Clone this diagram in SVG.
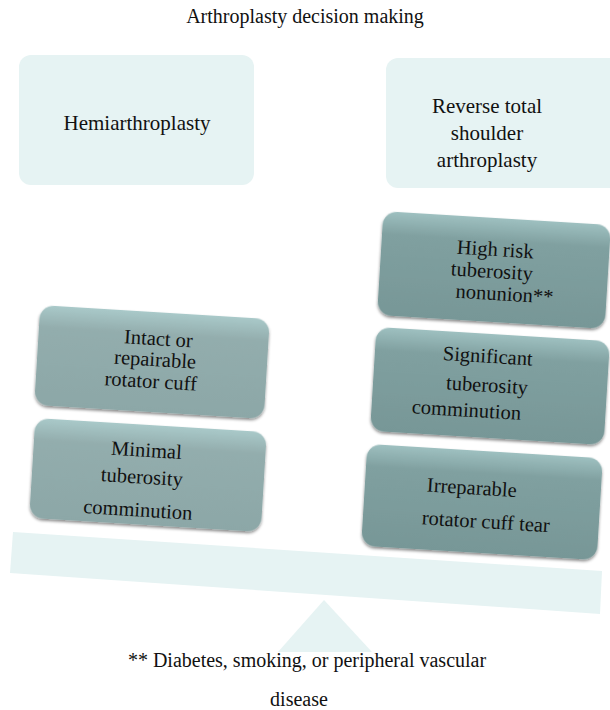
<svg xmlns="http://www.w3.org/2000/svg" width="610" height="710" viewBox="0 0 610 710">
  <defs>
    <linearGradient id="gLeft" x1="0" y1="0" x2="0" y2="1">
      <stop offset="0" stop-color="#a9c9c9"/>
      <stop offset="0.22" stop-color="#93adad"/>
      <stop offset="1" stop-color="#8ca7a7"/>
    </linearGradient>
    <linearGradient id="gRight" x1="0" y1="0" x2="0" y2="1">
      <stop offset="0" stop-color="#9ec0c0"/>
      <stop offset="0.22" stop-color="#80a0a0"/>
      <stop offset="1" stop-color="#779797"/>
    </linearGradient>
    <filter id="sh" x="-10%" y="-10%" width="120%" height="130%">
      <feDropShadow dx="0" dy="2" stdDeviation="1.6" flood-color="#000" flood-opacity="0.45"/>
    </filter>
  </defs>
  <style>
    text { font-family: "Liberation Serif", "Times New Roman", serif; font-size: 20px; fill: #111111; text-anchor: middle; }
    .big { font-size: 21px; }
    .bx { font-size: 20.5px; }
    .light { fill: #e6f3f3; }
    .bl { fill: url(#gLeft); filter: url(#sh); }
    .br { fill: url(#gRight); filter: url(#sh); }
  </style>

  <rect width="610" height="710" fill="#ffffff"/>

  <g id="title">
    <text x="305" y="23">Arthroplasty decision making</text>
  </g>

  <g id="hemi">
    <rect class="light" x="19" y="55" width="235" height="130" rx="12"/>
    <text class="big" x="137" y="130">Hemiarthroplasty</text>
  </g>

  <g id="reverse">
    <rect class="light" x="386" y="58" width="240" height="130" rx="12"/>
    <text class="big" x="487" y="113">Reverse total</text>
    <text class="big" x="487" y="140">shoulder</text>
    <text class="big" x="487" y="167">arthroplasty</text>
  </g>

  <g id="fulcrum">
    <polygon class="light" points="324,600 372,652 278,652"/>
  </g>

  <g id="beam">
    <polygon class="light" points="13,532 602,571 600,614 10,573"/>
  </g>

  <g id="intact" transform="translate(152,362) rotate(3.5)">
    <rect class="bl" x="-115" y="-50" width="230" height="100" rx="14"/>
    <text class="bx" x="5" y="-17">Intact or</text>
    <text class="bx" x="3" y="4">repairable</text>
    <text class="bx" x="0" y="26">rotator cuff</text>
  </g>

  <g id="minimal" transform="translate(148,475) rotate(3.5)">
    <rect class="bl" x="-116" y="-50" width="232" height="100" rx="14"/>
    <text class="bx" x="-3" y="-18">Minimal</text>
    <text class="bx" x="-6" y="9">tuberosity</text>
    <text class="bx" x="-8" y="42">comminution</text>
  </g>

  <g id="highrisk" transform="translate(494,270) rotate(3.5)">
    <rect class="br" x="-114" y="-52" width="228" height="104" rx="14"/>
    <text class="bx" x="0" y="-14">High risk</text>
    <text class="bx" x="-2" y="8">tuberosity</text>
    <text class="bx" x="12" y="30">nonunion**</text>
  </g>

  <g id="significant" transform="translate(490,386) rotate(3.5)">
    <rect class="br" x="-117" y="-52" width="234" height="104" rx="14"/>
    <text class="bx" x="-4" y="-23">Significant</text>
    <text class="bx" x="-3" y="6">tuberosity</text>
    <text class="bx" x="-22" y="32">comminution</text>
  </g>

  <g id="irreparable" transform="translate(482,502) rotate(3.5)">
    <rect class="br" x="-118" y="-51" width="236" height="102" rx="14"/>
    <text class="bx" x="-11" y="-7">Irreparable</text>
    <text class="bx" x="5" y="26">rotator cuff tear</text>
  </g>

  <g id="connectors"></g>

  <g id="footnote">
    <text x="307" y="667">**  Diabetes, smoking, or peripheral vascular</text>
    <text x="299" y="706">disease</text>
  </g>
</svg>
